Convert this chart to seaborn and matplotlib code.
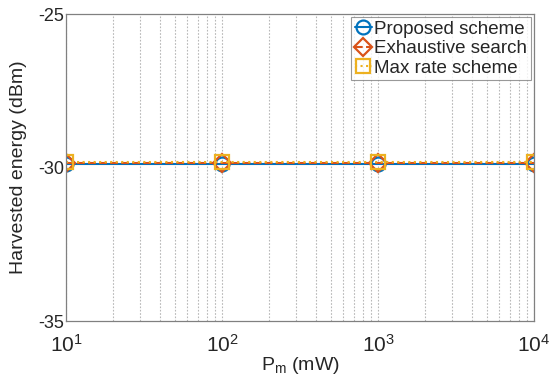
import numpy as np
import pandas as pd
import seaborn as sns
import matplotlib.pyplot as plt
from matplotlib.ticker import LogLocator

# data
pm_mw = [10, 100, 1000, 10000]
proposed = [-29.88, -29.88, -29.88, -29.88]
exhaustive = [-29.85, -29.85, -29.85, -29.85]
max_rate = [-29.83, -29.83, -29.83, -29.83]
x_ticklabels = ["$10^{1}$", "$10^{2}$", "$10^{3}$", "$10^{4}$"]
y_ticks = [-35, -30, -25]

sns.set_style("white")
plt.rcParams['font.family'] = ['Liberation Sans', 'DejaVu Sans']
plt.rcParams['mathtext.fontset'] = 'custom'
plt.rcParams['mathtext.rm'] = 'Liberation Sans'
plt.rcParams['mathtext.it'] = 'Liberation Sans'

fig = plt.figure(figsize=(5.5, 3.85), dpi=100)
ax = fig.add_axes([0.12, 0.166, 0.851, 0.797])

# series name, values, colour, dash style, marker
series = [
    ("Proposed scheme", proposed, "#0072BD", "-", "o", 10),
    ("Exhaustive search", exhaustive, "#D95319", "--", "D", 9),
    ("Max rate scheme", max_rate, "#EDB120", ":", "s", 10),
]
for name, vals, col, ls, mk, ms in series:
    df = pd.DataFrame({"Pm": pm_mw, "E": vals})
    sns.lineplot(data=df, x="Pm", y="E", ax=ax, color=col, linestyle=ls,
                 linewidth=1.5, marker=mk, markersize=ms,
                 markerfacecolor="none", markeredgecolor=col,
                 markeredgewidth=1.6, label=name)

ax.set_xscale("log")
ax.set_xlim(10, 10000)
ax.set_ylim(-35, -25)
ax.set_yticks(y_ticks)
ax.set_yticklabels([str(v) for v in y_ticks])
ax.set_xticks(pm_mw)
ax.set_xticklabels(x_ticklabels)
ax.xaxis.set_minor_locator(LogLocator(base=10, subs=np.arange(2, 10)))
ax.grid(True, which="both", axis="x", linestyle=(0, (1.5, 1.5)),
        color="#b8b8b8", linewidth=0.8)
ax.tick_params(axis="y", which="both", length=0, labelsize=13, pad=1)
ax.tick_params(axis="x", which="both", length=0, labelsize=15, pad=9)
for s in ax.spines.values():
    s.set_color("#808080")
    s.set_linewidth(0.9)

ax.set_xlabel("P$_\\mathregular{m}$ (mW)", fontsize=14, labelpad=0)
ax.set_ylabel("Harvested energy (dBm)", fontsize=14, labelpad=8)

leg = ax.legend(loc="upper right", fontsize=13.5, frameon=True, fancybox=False,
                handlelength=0.9, handletextpad=0.15, borderpad=0.2,
                labelspacing=0.12, borderaxespad=0.15)
leg.get_frame().set_edgecolor("#808080")
leg.get_frame().set_linewidth(0.8)

fig.savefig("out.png", dpi=100)
